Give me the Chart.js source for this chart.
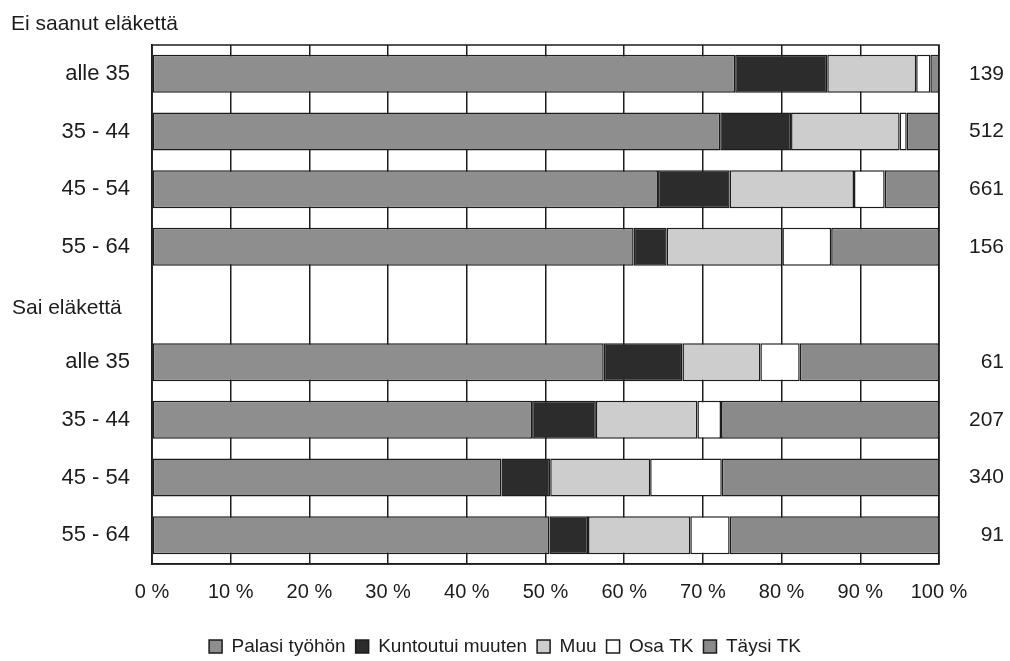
<!DOCTYPE html>
<html>
<head>
<meta charset="utf-8">
<script src="https://cdn.jsdelivr.net/npm/chart.js@4"></script>
<style>
  html, body { margin: 0; padding: 0; background: #fff; }
  #wrap { width: 1010px; height: 661px; }
</style>
</head>
<body>
<div id="wrap"><canvas id="chart" width="1010" height="661"></canvas></div>
<script>
/* Data */
const groups = ["alle 35", "35 - 44", "45 - 54", "55 - 64", "", "alle 35", "35 - 44", "45 - 54", "55 - 64"];
const counts = ["139", "512", "661", "156", "", "61", "207", "340", "91"];

const palasi     = [74.1, 72.2, 64.3, 61.2, null, 57.4, 48.3, 44.4, 50.5];
const kuntoutui  = [11.7,  9.0,  9.1,  4.2, null, 10.0,  8.1,  6.2,  4.9];
const muu        = [11.3, 13.8, 15.8, 14.7, null,  9.9, 12.9, 12.7, 13.0];
const osaTK      = [ 1.8,  0.9,  3.9,  6.2, null,  5.0,  3.0,  9.1,  5.0];
const taysiTK    = [ 1.1,  4.1,  6.9, 13.7, null, 17.7, 27.7, 27.6, 26.6];

const xTicks = [0, 10, 20, 30, 40, 50, 60, 70, 80, 90, 100];

const ink = "#1c1c1c";
const font = "'Liberation Sans', Arial, Helvetica, sans-serif";

function series(label, data, color) {
  return {
    label: label,
    data: data,
    backgroundColor: color,
    borderColor: ink,
    borderWidth: 1.5,
    borderSkipped: false,
    barPercentage: 0.66,
    categoryPercentage: 1,
    yAxisID: "y",
  };
}

/* Group titles + top frame line */
const extras = {
  id: "extras",
  afterDraw(chart) {
    const ctx = chart.ctx;
    const a = chart.chartArea;
    ctx.save();
    ctx.strokeStyle = ink;
    ctx.lineWidth = 1.5;
    ctx.strokeRect(a.left, a.top, a.right - a.left, a.bottom - a.top);
    ctx.fillStyle = ink;
    ctx.font = "21px " + font;
    ctx.textAlign = "left";
    ctx.textBaseline = "middle";
    ctx.fillText("Ei saanut eläkettä", 11, 24);
    ctx.fillText("Sai eläkettä", 12, chart.scales.y.getPixelForValue(4) + 4);
    ctx.restore();
  },
};

const ctx = document.getElementById("chart").getContext("2d");
new Chart(ctx, {
  type: "bar",
  data: {
    labels: groups,
    datasets: [
      series("Palasi työhön", palasi, "#8e8e8e"),
      series("Kuntoutui muuten", kuntoutui, "#2c2c2c"),
      series("Muu", muu, "#cdcdcd"),
      series("Osa TK", osaTK, "#ffffff"),
      series("Täysi TK", taysiTK, "#8a8a8a"),
    ],
  },
  options: {
    indexAxis: "y",
    responsive: false,
    animation: false,
    layout: { padding: { top: 45, right: 6, bottom: -5, left: 6 } },
    plugins: {
      tooltip: { enabled: false },
      legend: {
        position: "bottom",
        labels: {
          color: ink,
          font: { family: font, size: 19 },
          boxWidth: 13,
          boxHeight: 13,
          padding: 10,
        },
      },
    },
    scales: {
      x: {
        stacked: true,
        min: 0,
        max: 100,
        afterBuildTicks: (s) => { s.ticks = xTicks.map((v) => ({ value: v })); },
        afterFit: (s) => { s.height = 63; },
        ticks: {
          color: ink,
          font: { family: font, size: 20 },
          padding: 16,
          callback: (v) => v + " %",
        },
        grid: { color: ink, lineWidth: 1.5, drawTicks: false },
        border: { color: ink, width: 1.5 },
      },
      y: {
        stacked: true,
        afterFit: (s) => { s.width = 146; },
        ticks: {
          color: ink,
          font: { family: font, size: 22 },
          padding: 22,
        },
        grid: { display: false, drawTicks: false },
        border: { color: ink, width: 1.5 },
      },
      y2: {
        type: "category",
        labels: counts,
        position: "right",
        offset: true,
        afterFit: (s) => { s.width = 65; },
        ticks: {
          color: ink,
          font: { family: font, size: 21 },
          padding: 26,
          crossAlign: "far",
        },
        grid: { display: false, drawTicks: false },
        border: { display: false },
      },
    },
  },
  plugins: [extras],
});
</script>
</body>
</html>
